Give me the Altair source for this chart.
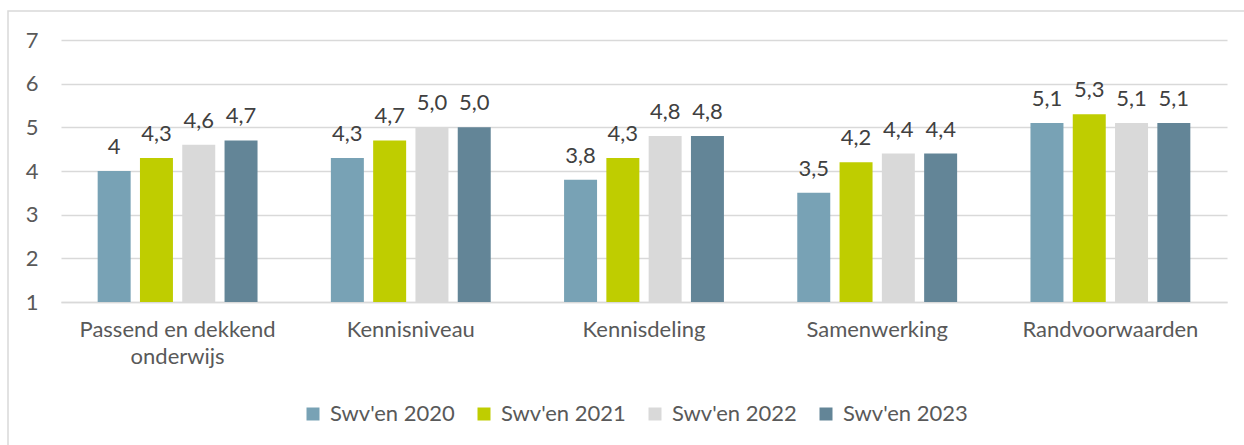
import altair as alt
import pandas as pd

# Scores per theme, per survey year
categories = ["Passend en dekkend onderwijs", "Kennisniveau", "Kennisdeling",
              "Samenwerking", "Randvoorwaarden"]
series = ["Swv'en 2020", "Swv'en 2021", "Swv'en 2022", "Swv'en 2023"]
colors = ["#78A2B5", "#BFCD00", "#D9D9D9", "#638597"]

values_2020 = [4.0, 4.3, 3.8, 3.5, 5.1]
values_2021 = [4.3, 4.7, 4.3, 4.2, 5.3]
values_2022 = [4.6, 5.0, 4.8, 4.4, 5.1]
values_2023 = [4.7, 5.0, 4.8, 4.4, 5.1]

labels_2020 = ["4", "4,3", "3,8", "3,5", "5,1"]
labels_2021 = ["4,3", "4,7", "4,3", "4,2", "5,3"]
labels_2022 = ["4,6", "5,0", "4,8", "4,4", "5,1"]
labels_2023 = ["4,7", "5,0", "4,8", "4,4", "5,1"]

y_ticks = [1, 2, 3, 4, 5, 6, 7]

rows = []
for name, vals, labs in zip(series,
                            [values_2020, values_2021, values_2022, values_2023],
                            [labels_2020, labels_2021, labels_2022, labels_2023]):
    for cat, v, lab in zip(categories, vals, labs):
        rows.append({"categorie": cat, "jaar": name, "score": v, "label": lab})
df = pd.DataFrame(rows)

FONT = "Lato"
FS = 22
W, H = 1166, 262

x_enc = alt.X(
    "categorie:N", sort=categories, title=None,
    scale=alt.Scale(paddingInner=0, paddingOuter=0),
    axis=alt.Axis(
        labelExpr="datum.value == 'Passend en dekkend onderwijs' ? ['Passend en dekkend', 'onderwijs'] : datum.value",
        labelAngle=0, labelFontSize=FS, labelFont=FONT, labelColor="#595959",
        labelPadding=17, labelLineHeight=27, labelLimit=0, ticks=False,
        domainColor="#D9D9D9", domainWidth=1.5, grid=False,
    ),
)
xoff_enc = alt.XOffset("jaar:N", sort=series,
                       scale=alt.Scale(paddingInner=0.22, paddingOuter=0.867))
y_scale = alt.Scale(domain=[1, 7], zero=False, nice=False)

bars = alt.Chart(df).mark_bar().encode(
    x=x_enc,
    xOffset=xoff_enc,
    y=alt.Y("score:Q", scale=y_scale, title=None,
            axis=alt.Axis(values=y_ticks, format="d", labelFontSize=FS,
                          labelFont=FONT, labelColor="#595959", labelPadding=23,
                          ticks=False, domain=False, gridColor="#D9D9D9",
                          gridWidth=1.5)),
    y2=alt.datum(1),
    color=alt.Color("jaar:N", sort=series,
                    scale=alt.Scale(domain=series, range=colors),
                    legend=alt.Legend(title=None, orient="none", direction="horizontal",
                                      legendX=241, legendY=363,
                                      symbolType="square", symbolSize=169,
                                      symbolStrokeWidth=0,
                                      labelFontSize=FS, labelFont=FONT,
                                      labelColor="#595959", labelOffset=6,
                                      columnPadding=18)),
)

text = alt.Chart(df).mark_text(
    baseline="alphabetic", dy=-17, fontSize=FS, font=FONT, color="#404040"
).encode(
    x=alt.X("categorie:N", sort=categories),
    xOffset=xoff_enc,
    y=alt.Y("score:Q", scale=y_scale),
    text="label:N",
)

# outer chart frame
frame = alt.Chart(pd.DataFrame({"f": [0]})).mark_rect(
    fill="transparent", stroke="#D9D9D9", strokeWidth=1.5, clip=False
).encode(
    x=alt.value(-53), x2=alt.value(1300),
    y=alt.value(-29), y2=alt.value(500),
)

chart = alt.layer(frame, bars, text).properties(
    width=W, height=H,
    autosize=alt.AutoSizeParams(type="none"),
    padding={"left": 61, "top": 40, "right": 17, "bottom": 143},
    background="white",
).configure_view(stroke=None)

chart.save("out.html", embed_options={"renderer": "svg", "actions": False})
